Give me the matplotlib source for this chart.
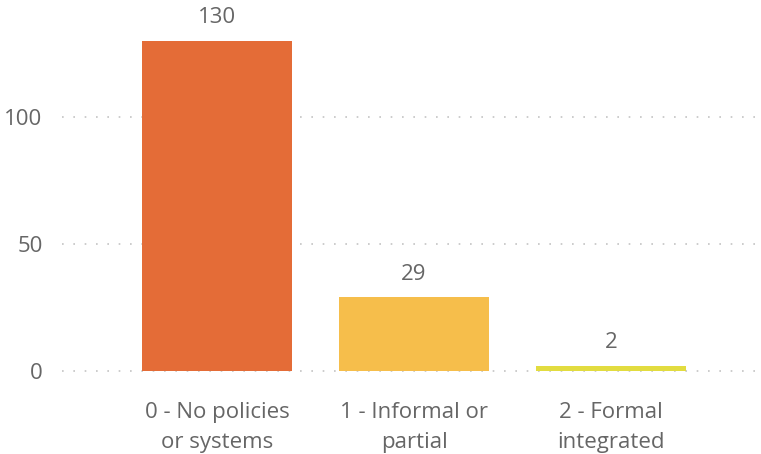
import matplotlib
matplotlib.use("Agg")
import matplotlib.pyplot as plt

categories = ["0 - No policies\nor systems", "1 - Informal or\npartial", "2 - Formal\nintegrated"]
values = [130, 29, 2]
colors = ["#E46C37", "#F6BE4B", "#E2DC40"]
yticks = [0, 50, 100]

plt.rcParams['font.family'] = ['Open Sans', 'DejaVu Sans']
FS = 16
TC = "#666666"

fig = plt.figure(figsize=(7.61, 4.54), dpi=100)
ax = fig.add_axes([62/761, 1 - 371/454, (757-62)/761, 371/454])

x = list(range(len(values)))
ax.bar(x, values, width=0.76, color=colors, zorder=3)
for xi, v in zip(x, values):
    ax.annotate(str(v), (xi, v), xytext=(0, 9), textcoords="offset points",
                ha="center", va="bottom", fontsize=FS, color=TC)

ax.set_xlim(-0.787, 2.741)
ax.set_ylim(0, 146)
ax.set_yticks(yticks)
ax.set_yticklabels([str(t) for t in yticks], fontsize=FS, color=TC)
ax.set_xticks(x)
ax.set_xticklabels(categories, fontsize=FS, color=TC, linespacing=1.6)
ax.tick_params(axis="both", length=0)
ax.tick_params(axis="y", pad=14)
ax.tick_params(axis="x", pad=22)
for s in ax.spines.values():
    s.set_visible(False)
ax.grid(axis="y", color="#C4C4C4", linestyle=(0, (1, 5.8)), linewidth=1.2, zorder=0)
for gl in ax.get_ygridlines():
    gl.set_clip_on(False)
ax.set_axisbelow(True)
ax.set_facecolor("white")

fig.savefig("out.png", dpi=100)
